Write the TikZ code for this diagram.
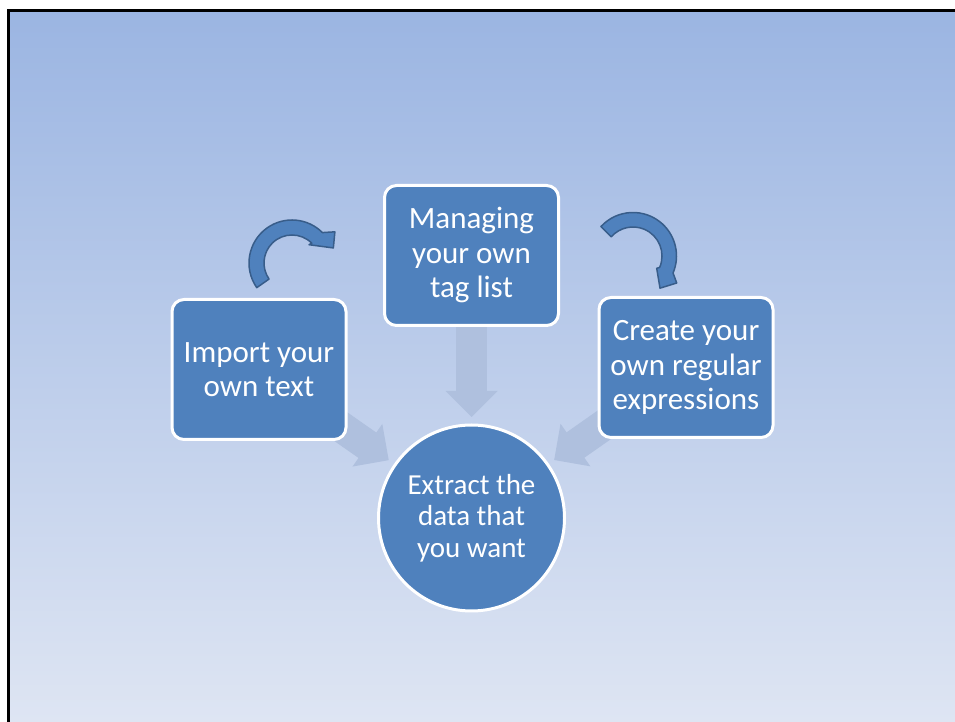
\documentclass[tikz,border=0pt]{standalone}
\usepackage{fontspec}
\setmainfont{Carlito}
\usetikzlibrary{shapes,calc,backgrounds}
\definecolor{boxblue}{RGB}{79,129,189}
\definecolor{rimblue}{RGB}{56,93,138}
\definecolor{paleflow}{RGB}{175,192,222}
\definecolor{skytop}{RGB}{155,181,226}
\definecolor{skybottom}{RGB}{222,229,243}

\begin{document}
\begin{tikzpicture}[x=1pt,y=1pt]
      \tikzstyle{taskbox}=[rectangle,rounded corners=12pt,draw=white,line width=3pt,fill=boxblue,text=white,align=center,minimum width=174pt,minimum height=140pt,font=\fontsize{31}{34.5}\selectfont]
      \tikzstyle{goal}=[circle,draw=white,line width=3pt,fill=boxblue,text=white,align=center,minimum size=186pt,inner sep=0pt,font=\fontsize{29}{31.5}\selectfont]
      \tikzstyle{turn}=[fill=boxblue,draw=rimblue,line width=1.5pt,line join=round]
      \useasboundingbox (0,0) rectangle (955,722);
      \node[taskbox] (manage) at (471.5,466.5) {Managing\\your own\\tag list};
      \node[taskbox] (import) at (259,352.5) {Import your\\own text};
      \node[taskbox] (create) at (686,354.5) {Create your\\own regular\\expressions};
      \node[goal] (extract) at (471.5,204) {Extract the\\data that\\you want};
      \coordinate (loopleft) at (292,459);
      \coordinate (loopright) at (633,466);
      \draw[turn] ($(loopleft)+(215:43)$) arc[start angle=215,end angle=45,radius=43]
        -- ($(loopleft)+(36:53)$) -- ($(loopleft)+(20:44)$) -- ($(loopleft)+(47:25)$)
        -- ($(loopleft)+(45:28)$) arc[start angle=45,end angle=215,radius=28] -- cycle;
      \draw[turn] ($(loopright)+(137.5:43.5)$) arc[start angle=137.5,end angle=-23,radius=43.5]
        -- ($(loopright)+(-31.7:51.4)$) -- ($(loopright)+(-50:42)$) -- ($(loopright)+(-27.5:26.7)$)
        -- ($(loopright)+(-23:29)$) arc[start angle=-23,end angle=138.7,radius=29] -- cycle;
      \draw[line width=3pt] (8.8,0) -- (8.8,711.7) -- (955,711.7);
      \begin{scope}[on background layer]
        \fill[white] (0,0) rectangle (955,722);
        \fill[top color=skytop,bottom color=skybottom] (8.8,0) rectangle (955,711.7);
        % faded arrows into the circle
        \foreach \src in {import,manage,create} {
          \coordinate (tip) at ($(extract)!101pt!(\src)$);
          \coordinate (base) at ($(tip)!26pt!(\src)$);
          \draw[paleflow,line width=31pt] (\src.center) -- ($(tip)!24pt!(\src)$);
          \fill[paleflow] (tip) -- ($(base)!26pt!90:(tip)$) -- ($(base)!26pt!-90:(tip)$) -- cycle;
        }
      \end{scope}
\end{tikzpicture}
\end{document}
